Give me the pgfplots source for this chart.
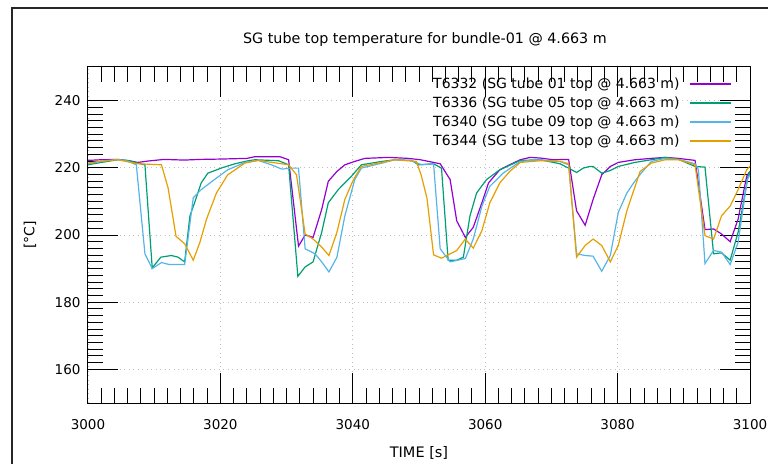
\documentclass[border=0pt]{standalone}
\usepackage{fontspec}
\setmainfont{DejaVu Sans}
\usepackage{pgfplots}
\pgfplotsset{compat=1.18}
\definecolor{c1}{HTML}{9400D3}
\definecolor{c2}{HTML}{009E73}
\definecolor{c3}{HTML}{56B4E9}
\definecolor{c4}{HTML}{E69F00}
\begin{document}
\begin{tikzpicture}[font=\fontsize{13.5pt}{16pt}\selectfont]
\useasboundingbox (0pt,0pt) rectangle (768pt,464pt);
\draw[line width=1.5pt, black!85] (12pt,0pt) -- (12pt,456pt) -- (768pt,456pt);
\begin{axis}[
  at={(88pt,61pt)}, anchor=south west,
  scale only axis, width=662pt, height=336pt,
  xmin=3000, xmax=3100, ymin=150, ymax=250,
  xtick={3000,3020,...,3100}, ytick={160,180,...,240},
  minor x tick num=9, minor y tick num=9,
  major tick length=30pt, minor tick length=15pt,
  tick align=inside,
  every tick/.style={black, line width=1pt},
  axis line style={black, line width=1pt},
  grid=major,
  major grid style={gray!50, dash pattern=on 1pt off 3.5pt, line width=0.8pt},
  /pgf/number format/assume math mode=true,
  /pgf/number format/.cd, 1000 sep={}, /pgfplots/.cd,
  ticklabel style={font=\fontsize{13.5pt}{16pt}\selectfont},
  xticklabel style={yshift=-13pt},
  yticklabel style={xshift=-4pt},
  xlabel={TIME [s]},
  xlabel style={at={(axis description cs:0.5,0)}, anchor=center, yshift=-50pt, font=\fontsize{14.5pt}{17pt}\selectfont},
  ylabel={[°C]},
  ylabel style={at={(axis description cs:-0.0876,0.5)}, anchor=center, font=\fontsize{14pt}{17pt}\selectfont},
  title={SG tube top temperature for bundle-01 @ 4.663 m},
  title style={at={(axis description cs:0.509,1)}, anchor=center, yshift=21pt, font=\fontsize{14.3pt}{17pt}\selectfont},
  legend plot pos=right,
  legend cell align=right,
  legend style={at={(axis description cs:0.973,0.966)}, anchor=north east,
    draw=none, fill=none, inner sep=0pt, row sep=5.9pt, column sep=10pt,
    font=\fontsize{14pt}{17pt}\selectfont,
    nodes={inner sep=0pt, text height=10pt, text depth=3pt}},
  legend image code/.code={\draw[#1, line width=1.4pt] (0pt,1pt) -- (41pt,1pt);},
  every axis plot/.append style={line width=1.2pt},
]
\addplot[color=c1] coordinates {
(3000,222.2) (3002,222.4) (3004.5,222.5) (3006.5,222) (3007.5,221.6) (3009,222) (3011.5,222.5) (3014.5,222.3) (3017,222.5) (3020,222.6) (3024,222.8) (3025.2,223.3) (3029,223.3) (3030.3,222.4) (3031.8,196.7) (3032.8,200) (3034,199.3) (3035.3,207.6) (3036.3,216) (3037.6,218.9) (3038.8,220.9) (3040.3,221.9) (3041.8,222.8) (3045.4,223.1) (3048.4,222.8) (3050.2,222.4) (3053.2,221.2) (3054.7,216.5) (3055.7,204.2) (3057,199.3) (3058.2,202.3) (3059.5,209.6) (3060.5,215.5) (3062.2,219.4) (3063.7,220.9) (3065.3,222.4) (3066.8,223.1) (3068.3,222.9) (3070.3,222.4) (3072.6,222.5) (3073.8,207.2) (3075.1,202.9) (3076.3,210.6) (3077.6,217.9) (3078.9,220.4) (3080.1,221.6) (3082.6,222.4) (3085.1,222.8) (3087.2,223.1) (3089.2,222.8) (3091.7,222.2) (3093.2,201.6) (3094.5,201.8) (3095.7,200.3) (3097,198) (3098.2,204.7) (3099.5,217.5) (3100,219)
};
\addlegendentry{T6332 (SG tube 01 top @ 4.663 m)}
\addplot[color=c2] coordinates {
(3000,220.9) (3002,221.6) (3004.5,222.4) (3006,222.2) (3007.5,221.4) (3008.6,220.9) (3009.7,190.2) (3011,193.4) (3012.6,193.9) (3013.6,193.4) (3014.6,192) (3015.4,205.7) (3016.1,209.6) (3017.1,215.5) (3018.1,218.4) (3020.1,219.9) (3022.2,221.2) (3024.2,222.1) (3025.2,222.4) (3028.8,222.1) (3030.3,220.9) (3031.7,187.7) (3032.8,190.5) (3034,192) (3035.3,200.8) (3036.3,209.6) (3037.8,213.5) (3039.8,217.5) (3041.3,220.9) (3044.4,221.9) (3046.4,222.4) (3048.9,222.2) (3049.9,220.9) (3052.2,221.2) (3053.4,219.9) (3054.4,192.5) (3055.7,192.5) (3056.7,193.4) (3057.7,205.7) (3058.7,212.5) (3060.2,216.5) (3062.2,219.4) (3065.3,222.2) (3068.3,222.4) (3071.3,221.2) (3072.6,219.9) (3073.8,218.6) (3074.8,219.9) (3075.8,220.4) (3076.3,220.4) (3077.6,218.4) (3078.9,219.2) (3080.1,220.4) (3082.6,221.6) (3085.1,222.4) (3087.2,223.1) (3089.2,222.5) (3091.7,220.4) (3093.2,220.2) (3094.5,194.4) (3095.7,194.7) (3097,192.5) (3098.2,200.8) (3099.7,217.5) (3100,219)
};
\addlegendentry{T6336 (SG tube 05 top @ 4.663 m)}
\addplot[color=c3] coordinates {
(3000,221.2) (3002,221.9) (3004.5,222.5) (3006,222) (3007.3,220.9) (3008.6,194.4) (3009.7,190) (3011.1,191.8) (3012.3,191.2) (3014.6,191.2) (3015.9,211.1) (3017.1,213.5) (3019.1,216.5) (3021.1,219.4) (3023.7,221.6) (3025.7,222.2) (3027.7,220.9) (3029.3,219.6) (3030.5,219.9) (3031.8,219.9) (3032.8,195.9) (3034.3,194.4) (3035.3,192) (3036.4,189) (3037.6,193.4) (3038.8,205.7) (3040.3,216.5) (3041.3,219.9) (3044.4,221.4) (3046.4,222.4) (3048.9,222.1) (3050.4,220.9) (3052.2,221.2) (3053.2,195.9) (3054.7,192) (3057,193) (3058.2,198.8) (3059.5,208.6) (3060.7,214.5) (3062.7,218.4) (3065.3,221.9) (3068.3,222.4) (3071.3,221.9) (3072.6,220.9) (3073.8,194.4) (3075.1,193.9) (3076.3,193.7) (3077.6,189.2) (3078.9,193.9) (3080.1,206.7) (3081.4,212.5) (3082.6,216) (3083.6,218.5) (3085.1,221.9) (3087.2,222.8) (3089.2,222.5) (3091.7,221.2) (3092.2,219.5) (3093.2,191.5) (3094.5,195.4) (3095.7,194.9) (3097,191.2) (3098.2,197.8) (3099.6,216.5) (3100,218)
};
\addlegendentry{T6340 (SG tube 09 top @ 4.663 m)}
\addplot[color=c4] coordinates {
(3000,221.4) (3002,222) (3004.5,222.4) (3007.5,221.2) (3011.1,220.9) (3012.1,214) (3013.3,199.6) (3014.6,197.4) (3015.9,192.5) (3016.9,197.8) (3017.9,204.7) (3019.4,212.5) (3021.1,217.9) (3023.7,221.4) (3025.7,222.2) (3030.3,220.9) (3031.5,217.9) (3032.8,200.3) (3034,198.8) (3035.3,196.4) (3036.4,193.9) (3037.6,200.8) (3038.8,210.6) (3040.1,216.5) (3041.3,220.4) (3044.4,221.6) (3046.4,222.4) (3049.6,221.9) (3050.3,218) (3051.2,211) (3052.2,194.1) (3053.4,193.1) (3055.7,195.4) (3057,198.8) (3058.2,196.1) (3059.5,201.3) (3060.7,209.6) (3062.2,215.5) (3063.7,218.9) (3065.3,221.6) (3068.3,222.1) (3071.3,221.9) (3072.6,221.2) (3073.8,193.4) (3075.1,196.9) (3076.3,198.8) (3077.6,196.9) (3078.9,192) (3080.1,196.9) (3081.4,207.2) (3083.4,218.9) (3085.1,221.4) (3087.2,222.4) (3089.2,222.4) (3091.7,220.9) (3093.2,199.8) (3094.5,198.8) (3095.7,205.7) (3097,208.6) (3098.2,213.5) (3099.5,219.4) (3100,220.5)
};
\addlegendentry{T6344 (SG tube 13 top @ 4.663 m)}
\end{axis}
\end{tikzpicture}
\end{document}
